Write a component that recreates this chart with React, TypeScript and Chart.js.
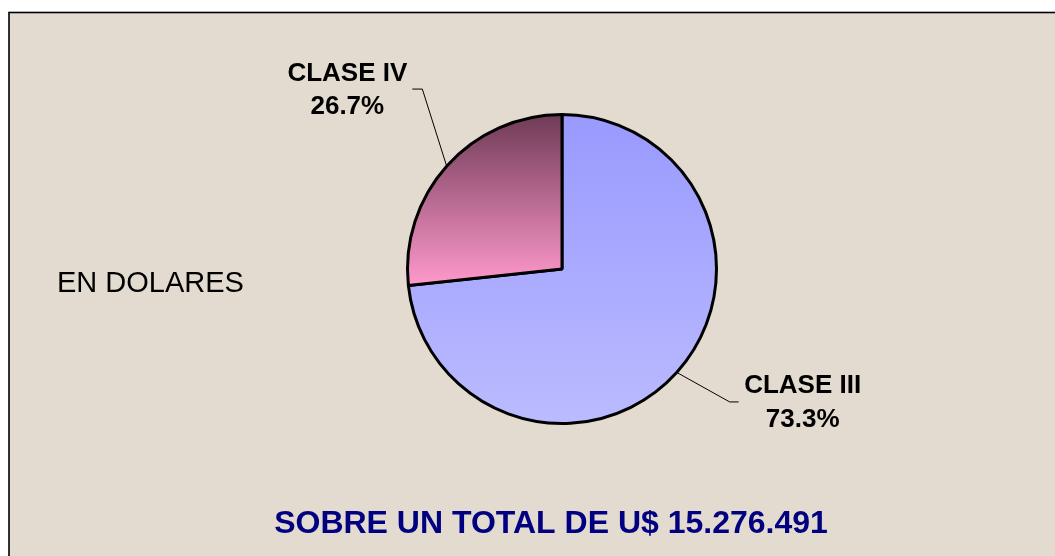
import React, { useEffect, useRef } from "react";
import { Chart, registerables } from "chart.js";

Chart.register(...registerables);

const categories = ["CLASE III", "CLASE IV"];
const shares = [73.3, 26.7];
const percentLabels = ["73.3%", "26.7%"];
const title = "SOBRE UN TOTAL DE U$ 15.276.491";
const subtitle = "EN DOLARES";

// styling
const gradTop = ["#9999FF", "#6E3A55"];
const gradBottom = ["#BBBBFF", "#FF99CC"];
// label leader layout relative to slice edge midpoint: elbow, end, text centre
const labelLayout = [
  { ex: 52, ey: 29, tx: 61, ty: 29, cx: 125, b1: 20, b2: 54 },
  { ex: -24, ey: -76, tx: -34, ty: -76, cx: -99, b1: -84, b2: -51 },
];

const FONT = "'Liberation Sans', Arial, Helvetica, sans-serif";
const BG = "#E3DBD0";

const decorPlugin = {
  id: "decor",
  beforeDraw(chart: any) {
    const { ctx, width, height } = chart;
    ctx.save();
    ctx.fillStyle = "#FFFFFF";
    ctx.fillRect(0, 0, width, height);
    ctx.fillStyle = BG;
    ctx.fillRect(9, 12, width, height);
    ctx.strokeStyle = "#000000";
    ctx.lineWidth = 1.6;
    ctx.strokeRect(9, 12.5, width + 50, height + 50);
    ctx.restore();
  },
  afterDraw(chart: any) {
    const { ctx } = chart;
    const meta = chart.getDatasetMeta(0);
    ctx.save();
    meta.data.forEach((arc: any, i: number) => {
      const p = arc.getProps(["x", "y", "startAngle", "endAngle", "outerRadius"], true);
      const mid = (p.startAngle + p.endAngle) / 2;
      const r = p.outerRadius + 1;
      const sx = p.x + r * Math.cos(mid);
      const sy = p.y + r * Math.sin(mid);
      const L = labelLayout[i];
      ctx.strokeStyle = "#000000";
      ctx.lineWidth = 1;
      ctx.beginPath();
      ctx.moveTo(sx, sy);
      ctx.lineTo(sx + L.ex, sy + L.ey);
      ctx.lineTo(sx + L.tx, sy + L.ty);
      ctx.stroke();
      ctx.fillStyle = "#000000";
      ctx.font = `bold 26px ${FONT}`;
      ctx.textAlign = "center";
      ctx.textBaseline = "alphabetic";
      ctx.fillText(categories[i], sx + L.cx, sy + L.b1);
      ctx.fillText(percentLabels[i], sx + L.cx, sy + L.b2);
    });
    ctx.fillStyle = "#000000";
    ctx.font = `29px ${FONT}`;
    ctx.textAlign = "left";
    ctx.fillText(subtitle, 57, 292);
    ctx.fillStyle = "#000080";
    ctx.font = `bold 32px ${FONT}`;
    ctx.textAlign = "center";
    ctx.fillText(title, 551, 533);
    ctx.restore();
  },
};

export default function App() {
  const ref = useRef<HTMLCanvasElement | null>(null);
  useEffect(() => {
    if (!ref.current) return;
    const total = shares.reduce((a, b) => a + b, 0);
    const chart = new Chart(ref.current, {
      type: "pie",
      data: {
        labels: categories,
        datasets: [
          {
            data: shares,
            borderColor: "#000000",
            borderWidth: 3,
            backgroundColor: (c: any) => {
              const area = c.chart.chartArea;
              const i = c.dataIndex;
              if (!area) return gradTop[i];
              const cy = (area.top + area.bottom) / 2;
              const rad = Math.min(area.width, area.height) / 2;
              let bottom = area.bottom;
              if (i === 1) {
                const endAng = -Math.PI / 2 + (2 * Math.PI * (shares[0] + shares[1])) / total;
                const startAng = -Math.PI / 2 + (2 * Math.PI * shares[0]) / total;
                bottom = cy + rad * Math.max(Math.sin(startAng), Math.sin(endAng), 0);
              }
              const g = c.chart.ctx.createLinearGradient(0, area.top, 0, bottom);
              g.addColorStop(0, gradTop[i]);
              g.addColorStop(1, gradBottom[i]);
              return g;
            },
          },
        ],
      },
      options: {
        responsive: false,
        animation: false,
        layout: { padding: { left: 406, right: 337, top: 113, bottom: 131 } },
        plugins: { legend: { display: false }, tooltip: { enabled: false } },
      },
      plugins: [decorPlugin],
    });
    return () => chart.destroy();
  }, []);
  return (
    <div style={{ position: "fixed", left: 0, top: 0, width: 1055, height: 556 }}>
      <canvas ref={ref} width={1055} height={556} style={{ display: "block" }} />
    </div>
  );
}
